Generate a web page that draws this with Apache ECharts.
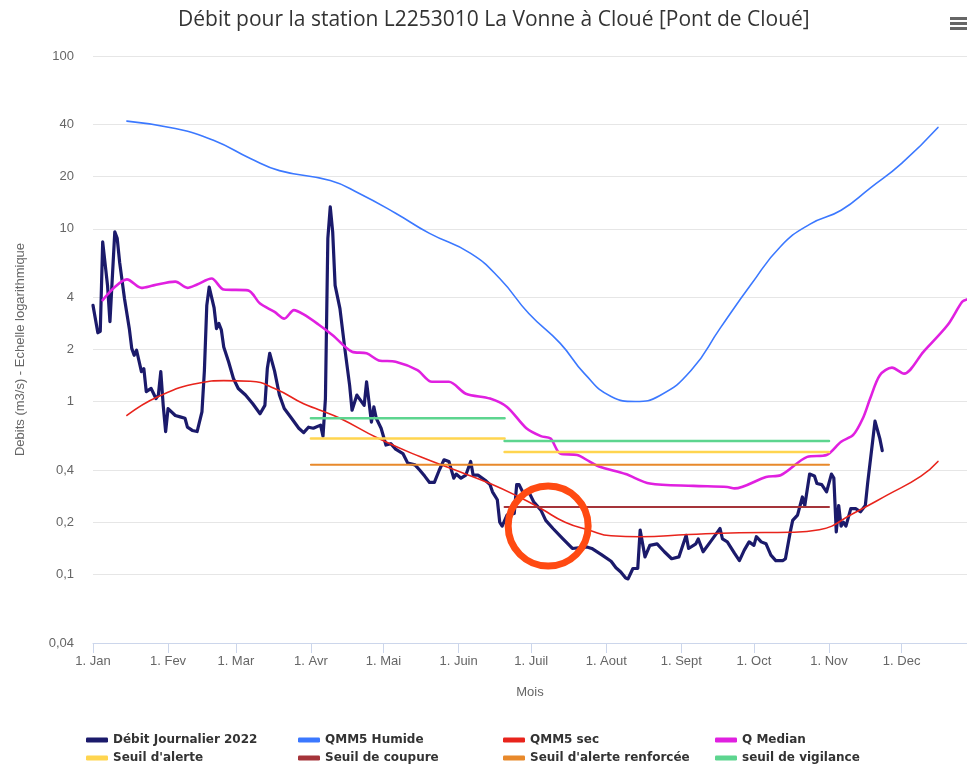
<!DOCTYPE html>
<html>
<head>
<meta charset="utf-8">
<script src="https://cdn.jsdelivr.net/npm/echarts@6/dist/echarts.min.js"></script>
<style>
    html, body { margin: 0; padding: 0; background: #fff; }
    #chart { width: 967px; height: 770px; }
</style>
</head>
<body>
<div id="chart"></div>
<script>
// axe des mois : jour de l'année 2022 (0 = 1er janvier)
let moisJours = [0, 31, 59, 90, 120, 151, 181, 212, 243, 273, 304, 334];
let moisLabels = ['1. Jan', '1. Fev', '1. Mar', '1. Avr', '1. Mai', '1. Juin', '1. Juil', '1. Aout', '1. Sept', '1. Oct', '1. Nov', '1. Dec'];
// graduations de l'axe logarithmique
let yTicks = [0.04, 0.1, 0.2, 0.4, 1, 2, 4, 10, 20, 40, 100];

// Débit journalier 2022
let debitJours = [0, 2, 3, 4, 6, 7, 9, 10, 11, 13, 15, 16, 17, 18, 20, 21, 22, 24, 26, 27, 28, 29, 30, 31, 34, 36, 38, 39, 41, 43,
    45, 46, 47, 48, 50, 51, 52, 53, 54, 56, 58, 60, 63, 66, 69, 71, 72, 73, 75, 77, 79, 82, 85, 87, 89, 91, 94, 95, 96, 97,
    98, 99, 100, 102, 104, 106, 107, 109, 110, 112, 113, 115, 116, 117, 119, 121, 123, 125, 128, 130, 133, 135, 137, 139, 141, 143, 145, 147, 149, 150,
    152, 154, 156, 157, 159, 162, 164, 165, 167, 168, 169, 171, 174, 175, 176, 178, 180, 182, 185, 187, 190, 194, 198, 204, 206, 210, 214, 216, 218, 220,
    221, 223, 225, 226, 228, 230, 233, 236, 239, 242, 245, 246, 249, 250, 252, 255, 258, 259, 260, 262, 265, 267, 269, 271, 273, 274, 276, 278, 280, 282,
    285, 286, 288, 289, 291, 293, 294, 296, 298, 299, 301, 303, 305, 306, 307, 308, 309, 310, 311, 313, 315, 317, 319, 320, 322, 323, 325, 326];
let debitValeurs = [3.6, 2.5, 2.55, 8.4, 4.7, 2.9, 9.6, 8.8, 6.4, 3.95, 2.64, 2.03, 1.85, 1.98, 1.49, 1.55, 1.14, 1.19, 1.04, 1.09, 1.49, 0.95, 0.67, 0.91, 0.83, 0.815, 0.8, 0.71, 0.68, 0.67,
    0.87, 1.5, 3.6, 4.6, 3.5, 2.64, 2.83, 2.6, 2.07, 1.7, 1.36, 1.19, 1.09, 0.97, 0.85, 0.95, 1.55, 1.9, 1.5, 1.09, 0.91, 0.8, 0.7, 0.66, 0.71, 0.7, 0.73, 0.63, 1.04, 8.8,
    13.4, 9.6, 4.7, 3.45, 2.03, 1.24, 0.89, 1.09, 1.04, 0.95, 1.3, 0.76, 0.93, 0.8, 0.7, 0.56, 0.57, 0.53, 0.5, 0.44, 0.43, 0.4, 0.37, 0.34, 0.34, 0.4, 0.46, 0.45, 0.36, 0.38,
    0.36, 0.375, 0.45, 0.375, 0.375, 0.35, 0.33, 0.3, 0.27, 0.2, 0.19, 0.22, 0.225, 0.33, 0.33, 0.29, 0.3, 0.263, 0.235, 0.205, 0.184, 0.161, 0.141, 0.144, 0.141, 0.13, 0.119, 0.109, 0.103, 0.095,
    0.094, 0.108, 0.108, 0.18, 0.126, 0.147, 0.15, 0.135, 0.123, 0.126, 0.168, 0.141, 0.15, 0.16, 0.135, 0.154, 0.176, 0.184, 0.16, 0.154, 0.132, 0.12, 0.138, 0.154, 0.147, 0.165, 0.154, 0.15, 0.129, 0.12,
    0.12, 0.123, 0.176, 0.205, 0.22, 0.28, 0.25, 0.38, 0.37, 0.335, 0.33, 0.3, 0.38, 0.36, 0.176, 0.25, 0.19, 0.2, 0.19, 0.24, 0.24, 0.23, 0.25, 0.34, 0.585, 0.77, 0.61, 0.52];

// QMM5 Humide
let humideJours = [14, 34, 50, 65, 77, 98, 110, 125, 139, 156, 168, 180, 193, 203, 214, 224, 234, 247, 259, 272, 284, 296, 309, 321, 334, 349];
let humideValeurs = [42, 38, 32.4, 25.5, 21.7, 19, 16, 12.3, 9.4, 7.2, 5.15, 3.23, 2.17, 1.45, 1.07, 1, 1.08, 1.51, 2.65, 4.8, 7.9, 10.6, 12.8, 17.2, 23.9, 38.6];

// QMM5 sec
let secJours = [14, 27, 44, 54, 65, 75, 87, 93, 102, 118, 135, 152, 164, 176, 185, 195, 205, 214, 226, 246, 267, 288, 300, 314, 328, 342, 349];
let secValeurs = [0.83, 1.07, 1.28, 1.32, 1.31, 1.19, 0.97, 0.9, 0.8, 0.61, 0.48, 0.39, 0.335, 0.28, 0.24, 0.2, 0.18, 0.167, 0.165, 0.17, 0.174, 0.175, 0.181, 0.225, 0.287, 0.37, 0.45];

// Q Median
let medianJours = [4, 9, 14, 20, 25, 34, 39, 43, 49, 54, 64, 69, 75, 79, 83, 87, 93, 99, 107, 113, 118, 125, 134, 140, 147, 154, 164, 171, 179, 185,
    189, 193, 200, 205, 209, 220, 230, 248, 262, 265, 278, 284, 295, 303, 309, 314, 318, 321, 325, 330, 335, 343, 353, 359, 361];
let medianValeurs = [3.86, 4.6, 5.09, 4.55, 4.7, 4.94, 4.55, 4.76, 5.15, 4.45, 4.4, 3.69, 3.3, 3.02, 3.38, 3.19, 2.8, 2.42, 1.94, 1.9, 1.73, 1.7, 1.52, 1.3, 1.3, 1.11, 1.04, 0.93, 0.7, 0.63,
    0.61, 0.5, 0.49, 0.45, 0.42, 0.38, 0.335, 0.325, 0.32, 0.314, 0.366, 0.374, 0.478, 0.49, 0.585, 0.64, 0.8, 1.04, 1.42, 1.57, 1.45, 1.94, 2.77, 3.78, 3.9];

// seuils : deux périodes (1 avr -> 20 juin, 20 juin -> 1 nov)
let seuilPeriodes = [[90, 170], [170, 304]];
let seuilAlerte = [0.61, 0.51];
let seuilCoupure = [null, 0.245];
let seuilRenforce = [0.43, 0.43];
let seuilVigilance = [0.8, 0.59];

let zip = (xs, ys) => xs.map((x, i) => [x, ys[i]]);
let paliers = (vals) => {
    let out = [];
    seuilPeriodes.forEach((p, i) => {
        if (vals[i] == null) return;
        if (out.length) out.push([p[0], '-']);
        out.push([p[0], vals[i]], [p[1], vals[i]]);
    });
    return out;
};

let chart = echarts.init(document.getElementById('chart'));

let lineSerie = (name, color, width, data, extra) => Object.assign({
    name: name,
    type: 'line',
    showSymbol: false,
    symbol: 'none',
    lineStyle: { color: color, width: width, cap: 'round', join: 'round' },
    itemStyle: { color: color },
    data: data
}, extra || {});

let legendBase = {
    orient: 'vertical',
    top: 734,
    height: 50,
    padding: 0,
    itemWidth: 22,
    itemHeight: 5,
    itemGap: 6,
    icon: 'roundRect',
    textStyle: { color: '#333', fontSize: 12, fontWeight: 'bold', fontFamily: 'DejaVu Sans' },
    selectedMode: false
};

let options = {
    animation: false,
    title: {
        text: 'Débit pour la station L2253010 La Vonne à Cloué [Pont de Cloué]',
        left: 173,
        top: 5,
        textStyle: { color: '#333', fontSize: 21, fontWeight: 'normal', fontFamily: 'Open Sans' }
    },
    legend: [
        Object.assign({}, legendBase, { left: 86, data: ['Débit Journalier 2022', "Seuil d'alerte"] }),
        Object.assign({}, legendBase, { left: 298, data: ['QMM5 Humide', 'Seuil de coupure'] }),
        Object.assign({}, legendBase, { left: 503, data: ['QMM5 sec', "Seuil d'alerte renforcée"] }),
        Object.assign({}, legendBase, { left: 715, data: ['Q Median', 'seuil de vigilance'] })
    ],
    grid: { left: 93, right: 0, top: 56, bottom: 127 },
    xAxis: {
        type: 'value',
        min: 0,
        max: 361,
        name: 'Mois',
        nameLocation: 'middle',
        nameGap: 43,
        nameTextStyle: { color: '#666', fontSize: 13 },
        axisLine: { show: true, lineStyle: { color: '#ccd6eb', width: 1 } },
        axisTick: { show: true, length: 10, customValues: moisJours, lineStyle: { color: '#ccd6eb' } },
        splitLine: { show: false },
        axisLabel: {
            customValues: moisJours,
            color: '#666',
            fontSize: 13,
            margin: 12,
            formatter: (v) => moisLabels[moisJours.indexOf(Math.round(v))] || ''
        }
    },
    yAxis: {
        type: 'log',
        logBase: 10,
        min: 0.04,
        max: 100,
        name: 'Debits (m3/s) - Echelle logarithmique',
        nameLocation: 'middle',
        nameGap: 66,
        nameTextStyle: { color: '#666', fontSize: 13 },
        axisLine: { show: false },
        axisTick: { show: false, customValues: yTicks },
        splitLine: { show: true, lineStyle: { color: '#e6e6e6', width: 1 } },
        axisLabel: {
            customValues: yTicks,
            color: '#666',
            fontSize: 13,
            margin: 19,
            formatter: (v) => String(+(+v).toPrecision(3)).replace('.', ',')
        }
    },
    series: [
        lineSerie('Débit Journalier 2022', '#1b1a6b', 3.2, zip(debitJours, debitValeurs)),
        lineSerie('QMM5 Humide', '#3b78ff', 1.6, zip(humideJours, humideValeurs), { smooth: true }),
        lineSerie('QMM5 sec', '#e8241c', 1.6, zip(secJours, secValeurs), { smooth: true }),
        lineSerie('Q Median', '#e020e0', 2.6, zip(medianJours, medianValeurs), { smooth: 0.3 }),
        lineSerie("Seuil d'alerte", '#ffd54f', 2.5, paliers(seuilAlerte)),
        lineSerie('Seuil de coupure', '#a5343a', 2, paliers(seuilCoupure)),
        lineSerie("Seuil d'alerte renforcée", '#e8892b', 2, paliers(seuilRenforce)),
        lineSerie('seuil de vigilance', '#5dd58f', 2.5, paliers(seuilVigilance))
    ]
};
chart.setOption(options);

// annotation : cercle autour de la chute de juillet + icône menu
let centre = chart.convertToPixel({ gridIndex: 0 }, [188, 0.19]);
chart.setOption({
    graphic: [
        {
            type: 'circle',
            shape: { cx: centre[0], cy: centre[1], r: 40 },
            style: { fill: 'none', stroke: '#ff4a12', lineWidth: 7 },
            z: 100
        },
        {
            type: 'group',
            right: 0,
            top: 17,
            children: [0, 5, 10].map(dy => ({
                type: 'rect',
                shape: { x: 0, y: dy, width: 17, height: 3 },
                style: { fill: '#666' }
            }))
        }
    ]
});
</script>
</body>
</html>
